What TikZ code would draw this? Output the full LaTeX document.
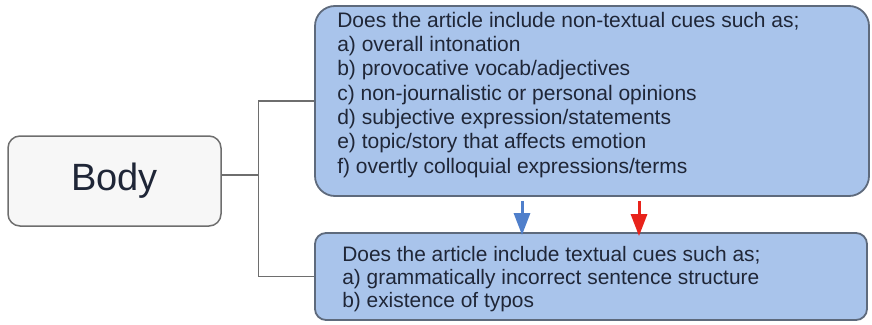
\documentclass[tikz,border=0pt]{standalone}
\usepackage{fontspec}
\setmainfont{Liberation Sans}
\usetikzlibrary{arrows.meta}
\definecolor{boxblue}{HTML}{A9C4EB}
\definecolor{boxedge}{HTML}{5E6A7C}
\definecolor{bodyfill}{HTML}{F7F7F7}
\definecolor{bodyedge}{HTML}{6E6E6E}
\definecolor{txt}{HTML}{1F2637}
\definecolor{arrblue}{HTML}{4F7FCB}
\definecolor{arrred}{HTML}{E8231B}
\tikzset{
  qbox/.style={draw=boxedge, line width=1.8pt, fill=boxblue, inner sep=0pt},
  bodybox/.style={draw=bodyedge, line width=1.5pt, fill=bodyfill, rounded corners=12pt,
    minimum width=213pt, minimum height=90pt, inner sep=0pt,
    font=\fontsize{38}{42}\selectfont, text=txt},
  qtext/.style={anchor=base west, align=left, inner sep=0pt, text=txt},
  conn/.style={draw=bodyedge, line width=1.3pt},
  downarr/.style={line width=3pt, -{Triangle[length=22pt,width=16pt]}}
}
\begin{document}
\begin{tikzpicture}[x=1pt,y=-1pt]
\useasboundingbox (0,0) rectangle (872,324);
\node[bodybox] (body) at (114.5,181) {Body};
\node[qbox, rounded corners=20pt, minimum width=554pt, minimum height=190pt] (q1) at (592,101) {};
\node[qbox, rounded corners=11pt, minimum width=552pt, minimum height=87pt] (q2) at (591,276.5) {};
\node[qtext, font=\fontsize{21}{24.33}\selectfont] (t1) at ([shift={(23pt,-168pt)}]q1.north west)
  {Does the article include non-textual cues such as;\\
   a) overall intonation\\
   b) provocative vocab/adjectives\\
   c) non-journalistic or personal opinions\\
   d) subjective expression/statements\\
   e) topic/story that affects emotion\\
   f) overtly colloquial expressions/terms};
\node[qtext, font=\fontsize{20.9}{23}\selectfont] (t2) at ([shift={(28pt,-75pt)}]q2.north west)
  {Does the article include textual cues such as;\\
   a) grammatically incorrect sentence structure\\
   b) existence of typos};
\draw[conn] ([yshift=6pt]body.east) -- ++(37,0) coordinate (j);
\draw[conn] (q1.west) -| (j) |- (q2.west);
\draw[downarr, arrblue] ([shift={(-70pt,-4pt)}]q1.south) -- ([shift={(-69pt,-3pt)}]q2.north);
\draw[downarr, arrred] ([shift={(47pt,-4pt)}]q1.south) -- ([shift={(48pt,-4pt)}]q2.north);
\end{tikzpicture}
\end{document}
